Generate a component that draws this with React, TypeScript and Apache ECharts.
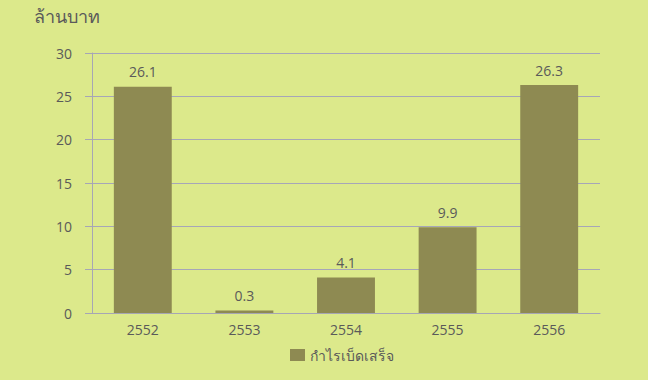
import React, { useEffect, useRef } from "react";
import * as echarts from "echarts";

const categories = ["2552", "2553", "2554", "2555", "2556"];
const values = [26.1, 0.3, 4.1, 9.9, 26.3];
const seriesName = "กำไรเบ็ดเสร็จ";
const unitLabel = "ล้านบาท";

export default function App() {
  const ref = useRef<HTMLDivElement>(null);
  useEffect(() => {
    const chart = echarts.init(ref.current!, null, { renderer: "svg" });
    chart.setOption({
      animation: false,
      backgroundColor: "#dce98b",
      textStyle: { fontFamily: "Open Sans, Noto Sans, sans-serif" },
      graphic: [
        {
          type: "text",
          left: 34,
          top: 7,
          style: { text: unitLabel, fontSize: 18, fill: "#5a5a5a", fontFamily: "Noto Sans, sans-serif" },
        },
      ],
      grid: { left: 92, right: 48, top: 53, bottom: 67 },
      legend: {
        bottom: 13,
        left: 285,
        itemWidth: 15,
        itemHeight: 12,
        itemGap: 6,
        icon: "rect",
        textStyle: { color: "#5a5a5a", fontSize: 14, fontFamily: "Noto Sans, sans-serif" },
        data: [seriesName],
      },
      xAxis: {
        type: "category",
        data: categories,
        axisLine: { lineStyle: { color: "#a6a6b4", width: 1 } },
        axisTick: { show: false },
        axisLabel: { color: "#5a5a5a", fontSize: 14, margin: 9 },
      },
      yAxis: {
        type: "value",
        min: 0,
        max: 30,
        interval: 5,
        axisLine: { show: true, lineStyle: { color: "#a6a6b4" } },
        axisTick: { show: true, length: 7, lineStyle: { color: "#a6a6b4" } },
        axisLabel: { color: "#5a5a5a", fontSize: 14, margin: 20 },
        splitLine: { lineStyle: { color: "#a6a6b8", width: 1.2 } },
      },
      series: [
        {
          name: seriesName,
          type: "bar",
          data: values,
          barWidth: "57%",
          itemStyle: { color: "#8e8a52" },
          label: { show: true, position: "top", color: "#5a5a5a", fontSize: 14, distance: 8 },
        },
      ],
    });
    return () => chart.dispose();
  }, []);
  return <div ref={ref} style={{ position: "absolute", left: 0, top: 0, width: 648, height: 380 }} />;
}
